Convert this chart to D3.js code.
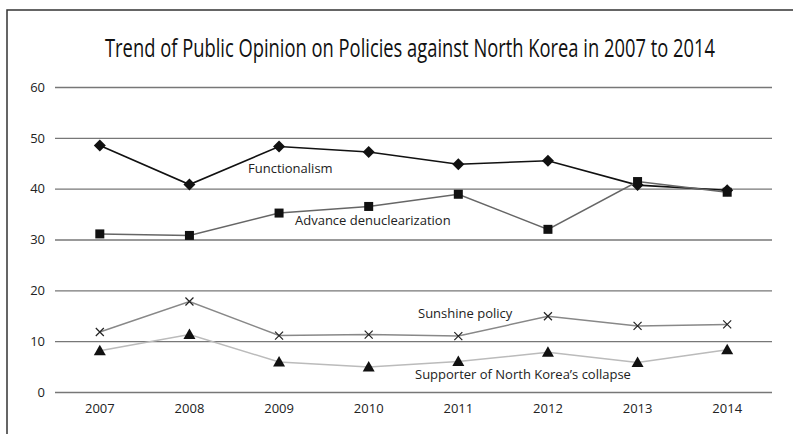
<!DOCTYPE html>
<html><head><meta charset="utf-8">
<script src="https://cdn.jsdelivr.net/npm/d3@7"></script>
<style>body{margin:0;background:#fff}svg{display:block}</style>
</head><body>
<svg id="c" width="793" height="434"></svg>
<script>
const years = ["2007","2008","2009","2010","2011","2012","2013","2014"];
const functionalism = [48.5, 40.8, 48.3, 47.2, 44.8, 45.5, 40.7, 39.7];
const denuclearization = [31.1, 30.8, 35.2, 36.5, 38.9, 32.0, 41.4, 39.3];
const sunshine = [11.8, 17.8, 11.1, 11.3, 11.0, 14.9, 13.0, 13.3];
const collapse = [8.1, 11.3, 5.9, 4.9, 6.0, 7.8, 5.8, 8.3];
const yTicks = [0, 10, 20, 30, 40, 50, 60];
const title = "Trend of Public Opinion on Policies against North Korea in 2007 to 2014";

const svg = d3.select("#c");
const font = "'Open Sans', 'Noto Sans', sans-serif";

// frame
svg.append("path").attr("d","M7,434 V10 H793").attr("fill","none").attr("stroke","#333").attr("stroke-width",1.5);

const t = svg.append("text").attr("x",0).attr("y",0).attr("text-anchor","middle")
  .attr("font-family","'Open Sans', sans-serif").attr("font-size",26)
  .attr("fill","#111").text(title);
const w = t.node().getComputedTextLength();
t.attr("transform", `translate(410,57) scale(${610 / w},1)`);

const x = d3.scaleBand().domain(years).range([55,772]);
const y = d3.scaleLinear().domain([0,60]).range([392,87]);

const yAxis = svg.append("g").attr("transform","translate(55,0)")
  .call(d3.axisLeft(y).tickValues(yTicks).tickSize(-717).tickPadding(10).tickFormat(d3.format("d")));
yAxis.select(".domain").remove();
yAxis.selectAll("line").attr("stroke","#777").attr("stroke-width",1.4);
yAxis.selectAll("text").attr("font-family",font).attr("font-size",13).attr("fill","#222");

const xAxis = svg.append("g").attr("transform","translate(0,392)")
  .call(d3.axisBottom(x).tickSize(0).tickPadding(12));
xAxis.select(".domain").remove();
xAxis.selectAll("text").attr("font-family",font).attr("font-size",13).attr("fill","#222");

const cx = d => x(d) + x.bandwidth()/2;
const series = [
  {vals: functionalism, color:"#111", width:1.6, sym:"diamond", label:"Functionalism", lx:248, ly:173},
  {vals: denuclearization, color:"#666", width:1.5, sym:"square", label:"Advance denuclearization", lx:295, ly:225},
  {vals: sunshine, color:"#888", width:1.5, sym:"x", label:"Sunshine policy", lx:418, ly:318},
  {vals: collapse, color:"#bbb", width:1.5, sym:"triangle", label:"Supporter of North Korea\u2019s collapse", lx:415, ly:379}
];
const line = d3.line().x((d,i)=>cx(years[i])).y(d=>y(d));
series.forEach(s=>{
  svg.append("path").datum(s.vals).attr("d",line).attr("fill","none").attr("stroke",s.color).attr("stroke-width",s.width);
  const g = svg.append("g");
  s.vals.forEach((v,i)=>{
    const px = cx(years[i]), py = y(v);
    if (s.sym === "x") {
      g.append("path").attr("d",`M${px-4},${py-4}L${px+4},${py+4}M${px-4},${py+4}L${px+4},${py-4}`)
        .attr("stroke","#222").attr("stroke-width",1.2);
    } else if (s.sym === "diamond") {
      g.append("path").attr("d",`M${px},${py-6}L${px+6},${py}L${px},${py+6}L${px-6},${py}Z`).attr("fill","#111");
    } else if (s.sym === "square") {
      g.append("rect").attr("x",px-4.5).attr("y",py-4.5).attr("width",9).attr("height",9).attr("fill","#111");
    } else {
      g.append("path").attr("d",`M${px},${py-6}L${px+6},${py+4.5}L${px-6},${py+4.5}Z`).attr("fill","#111");
    }
  });
  svg.append("text").attr("x",s.lx).attr("y",s.ly).attr("font-family",font).attr("font-size",13).attr("fill","#222").text(s.label);
});
</script>
</body></html>
